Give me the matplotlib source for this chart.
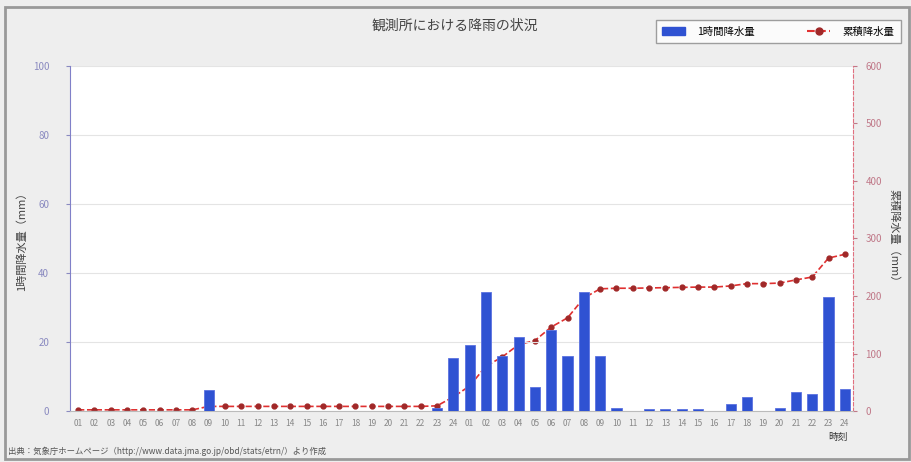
import numpy as np
import matplotlib.pyplot as plt

plt.rcParams['font.family'] = ['Noto Sans CJK JP', 'DejaVu Sans']

# hourly rainfall (mm) for 48 hours
hours = [f"{h:02d}" for h in list(range(1, 25)) + list(range(1, 25))]
hourly = [0, 0, 0, 0, 0, 0, 0, 0, 6, 0, 0, 0, 0, 0, 0, 0,
          0, 0, 0, 0, 0, 0, 1, 15.5, 19, 34.5, 16, 21.5, 7, 23.5, 16, 34.5,
          16, 1, 0, 0.5, 0.5, 0.5, 0.5, 0, 2, 4, 0, 1, 5.5, 5, 33, 6.5]
# cumulative rainfall (mm)
cumulative = [2, 2, 2, 2, 2, 2, 2, 2, 8, 8, 8, 8, 8, 8, 8, 8,
              8, 8, 8, 8, 8, 8, 9, 24.5, 43.5, 78, 94, 115.5, 122.5, 146, 162, 196.5,
              212.5, 213.5, 213.5, 214, 214.5, 215, 215.5, 215.5, 217.5, 221.5, 221.5, 222.5, 228, 233, 266, 272.5]

title = '観測所における降雨の状況'
bar_label = '1時間降水量'
line_label = '累積降水量'

x = np.arange(len(hours))

fig = plt.figure(figsize=(9.12, 4.62), dpi=100)
fig.patch.set_facecolor('#eeeeee')

# outer frame
frame = plt.Rectangle((5 / 912, 3 / 462), 904 / 912, 452 / 462, transform=fig.transFigure,
                      fill=False, edgecolor='#999999', linewidth=2)
fig.add_artist(frame)

ax = fig.add_axes([70 / 912, 51 / 462, 783 / 912, 345 / 462])
ax2 = ax.twinx()

# cumulative line on the twin axis, drawn underneath the bars
ax2.patch.set_visible(True)
ax2.patch.set_facecolor('white')
ax2.plot(x, cumulative, color='#e03030', linestyle='--', linewidth=1.2,
         marker='o', markersize=3.5, markerfacecolor='#a02828', markeredgecolor='#a02828')
ax2.set_ylim(0, 600)
ax2.set_yticks([0, 100, 200, 300, 400, 500, 600])
ax2.tick_params(axis='y', colors='#c07888', labelsize=7, length=3, pad=6)
ax2.spines['right'].set_color('#e07080')
ax2.spines['right'].set_linestyle((0, (3, 2)))
ax2.spines['left'].set_visible(False)
ax2.spines['top'].set_visible(False)
ax2.spines['bottom'].set_visible(False)
ax2.set_ylabel('累積降水量（mm）', fontsize=8, color='#444444', rotation=-90, labelpad=12)

ax.set_zorder(ax2.get_zorder() + 1)
ax.patch.set_visible(False)
ax.bar(x, hourly, width=0.62, color='#2f52d2', edgecolor='#5b72e0', linewidth=0.6, zorder=3)
ax.set_xlim(-0.5, len(hours) - 0.5)
ax.set_ylim(0, 100)
ax.set_yticks([0, 20, 40, 60, 80, 100])
ax.grid(axis='y', color='#e4e4e4', linewidth=0.8, zorder=0)
ax.set_xticks(x)
ax.set_xticklabels(hours, fontsize=6, color='#888888')
ax.tick_params(axis='x', length=0, pad=6)
ax.tick_params(axis='y', colors='#8a8ac0', labelsize=7, length=3, pad=12)
ax.spines['left'].set_color('#8080c8')
ax.spines['top'].set_visible(False)
ax.spines['bottom'].set_color('#bbbbbb')
ax.spines['right'].set_visible(False)
ax.set_ylabel('1時間降水量（mm）', fontsize=8, color='#444444', labelpad=4)

fig.text(455 / 912, 1 - 26 / 462, title, ha='center', va='center', fontsize=10, color='#444444')

# legend
h1 = plt.Rectangle((0, 0), 1, 1, color='#2f52d2')
h2, = ax2.plot([], [], color='#e03030', linestyle='--', marker='o', markersize=5,
               markerfacecolor='#a02828', markeredgecolor='#a02828')
leg = fig.legend([h1, h2], [bar_label, line_label], loc='upper right', ncol=2,
                 bbox_to_anchor=(906 / 912, 1 - 15 / 462), fontsize=7.5, frameon=True,
                 fancybox=False, edgecolor='#888888', columnspacing=5, handlelength=2.2,
                 borderpad=0.6, handletextpad=1.2)
leg.get_frame().set_linewidth(1.0)

fig.text(838 / 912, 1 - 437 / 462, '時刻', ha='center', va='center', fontsize=7, color='#333333')
fig.text(8 / 912, 1 - 451 / 462,
         '出典：気象庁ホームページ（http://www.data.jma.go.jp/obd/stats/etrn/）より作成',
         ha='left', va='center', fontsize=6, color='#555555')

fig.savefig('out.png', dpi=100, facecolor=fig.get_facecolor())
